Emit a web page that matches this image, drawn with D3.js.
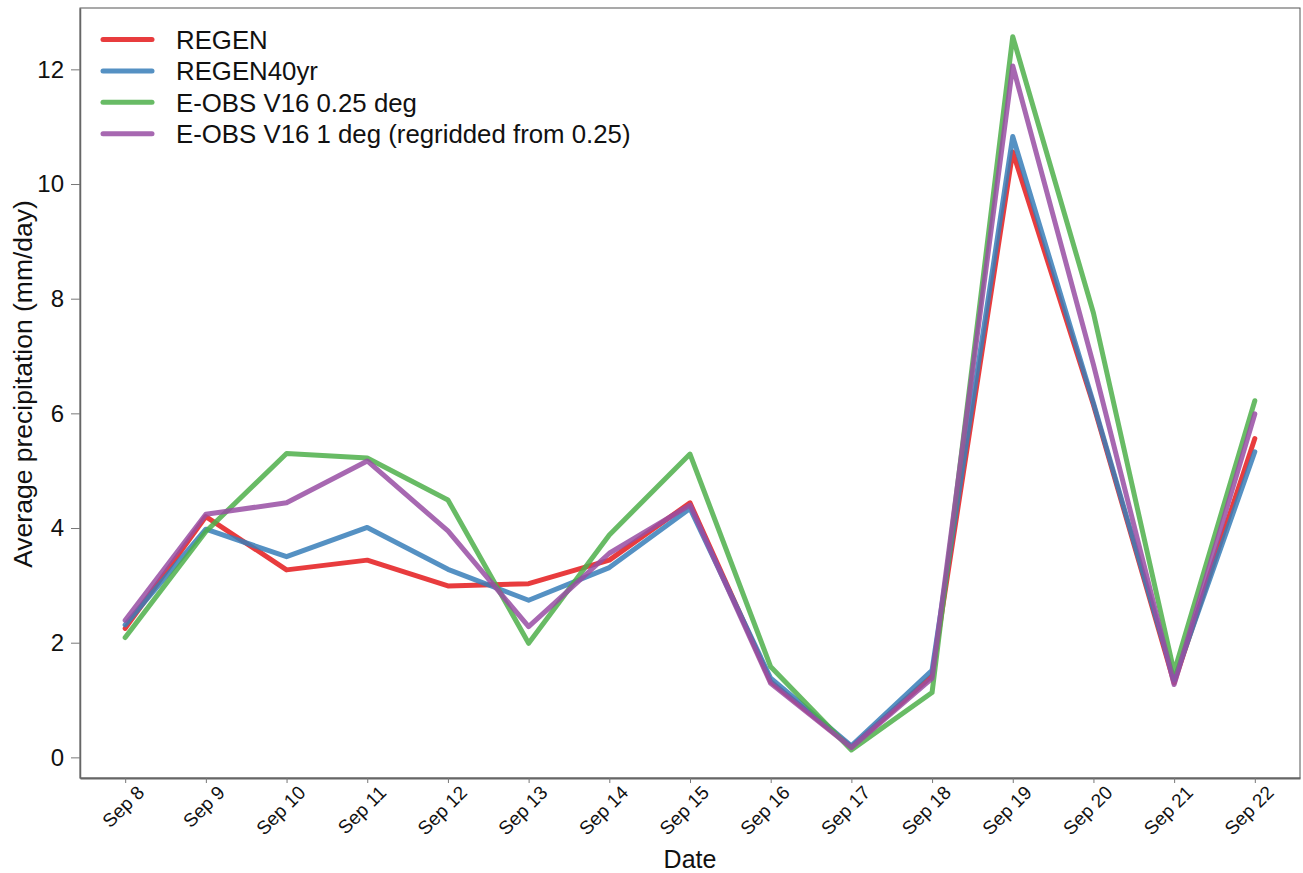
<!DOCTYPE html>
<html>
<head>
<meta charset="utf-8">
<script src="https://cdn.jsdelivr.net/npm/d3@7"></script>
<style>
  body { margin: 0; background: #fff; }
  text { font-family: "Liberation Sans", Arial, Helvetica, sans-serif; fill: #111; }
</style>
</head>
<body>
<script>
const dates = ["2018-09-08","2018-09-09","2018-09-10","2018-09-11","2018-09-12","2018-09-13","2018-09-14",
               "2018-09-15","2018-09-16","2018-09-17","2018-09-18","2018-09-19","2018-09-20","2018-09-21","2018-09-22"];
const regen      = [2.25, 4.20, 3.27, 3.44, 2.99, 3.03, 3.44, 4.44, 1.32, 0.18, 1.42, 10.56, 6.15, 1.30, 5.56];
const regen40    = [2.31, 3.98, 3.50, 4.01, 3.28, 2.74, 3.31, 4.34, 1.38, 0.20, 1.52, 10.83, 6.18, 1.35, 5.33];
const eobs025    = [2.09, 3.94, 5.30, 5.22, 4.49, 1.99, 3.88, 5.29, 1.58, 0.13, 1.13, 12.57, 7.75, 1.49, 6.22];
const eobs1      = [2.39, 4.24, 4.44, 5.17, 3.95, 2.28, 3.56, 4.40, 1.29, 0.17, 1.38, 12.06, 6.85, 1.27, 5.99];
const seriesNames = ["REGEN", "REGEN40yr", "E-OBS V16 0.25 deg", "E-OBS V16 1 deg (regridded from 0.25)"];
const colors = ["#E41A1C", "#377EB8", "#4DAF4A", "#984EA3"];
const yTicks = [0, 2, 4, 6, 8, 10, 12];

const parseDate = d3.timeParse("%Y-%m-%d");
const W = 1303, H = 873;
const plotL = 80, plotR = 1300, plotT = 8, plotB = 778;

const svg = d3.select("body").append("svg")
    .attr("width", W)
    .attr("height", H);

const days = dates.map(parseDate);
const pad = 0.56 * 864e5;

const x = d3.scaleTime()
    .domain([new Date(days[0].getTime() - pad), new Date(days[days.length-1].getTime() + pad)])
    .range([plotL, plotR]);

const y = d3.scaleLinear()
    .domain([-0.36, 13.07])
    .range([plotB, plotT]);

const series = [regen, regen40, eobs025, eobs1].map((vals, i) => ({
    name: seriesNames[i],
    color: colors[i],
    values: vals.map((v, j) => ({date: days[j], value: v}))
}));

// lines
const line = d3.line()
    .x(d => x(d.date))
    .y(d => y(d.value));

svg.append("g")
    .selectAll("path")
    .data(series)
    .enter()
    .append("path")
    .attr("d", d => line(d.values))
    .attr("fill", "none")
    .attr("stroke", d => d.color)
    .attr("stroke-opacity", 0.85)
    .attr("stroke-width", 5)
    .attr("stroke-linejoin", "round")
    .attr("stroke-linecap", "round");

// frame
svg.append("rect")
    .attr("x", plotL).attr("y", plotT)
    .attr("width", plotR - plotL).attr("height", plotB - plotT)
    .attr("fill", "none")
    .attr("stroke", "#555")
    .attr("stroke-width", 1);

// y axis
const yAxis = svg.append("g")
    .attr("transform", `translate(${plotL},0)`)
    .call(d3.axisLeft(y).tickValues(yTicks).tickSize(9).tickSizeOuter(0).tickPadding(7).tickFormat(d3.format("d")));
yAxis.select(".domain").attr("stroke", "#666").attr("stroke-width", 1.5);
yAxis.selectAll(".tick line").attr("stroke", "#777");
yAxis.selectAll("text")
    .style("font-size", "24px")
    .attr("fill", "#111");

// x axis
const xAxis = svg.append("g")
    .attr("transform", `translate(0,${plotB})`)
    .call(d3.axisBottom(x).tickValues(days).tickSize(5).tickSizeOuter(0).tickFormat(d3.timeFormat("%b %-d")));
xAxis.select(".domain").attr("stroke", "#666").attr("stroke-width", 2);
xAxis.selectAll(".tick line").attr("stroke", "#777");
xAxis.selectAll("text")
    .style("font-size", "19px")
    .attr("fill", "#111")
    .attr("text-anchor", "end")
    .attr("y", 0)
    .attr("dy", "0.72em")
    .attr("transform", "translate(10,6) rotate(-45)");

// axis titles
svg.append("text")
    .attr("x", (plotL + plotR) / 2)
    .attr("y", 868)
    .attr("text-anchor", "middle")
    .style("font-size", "25px")
    .text("Date");

svg.append("text")
    .attr("transform", `translate(32,${(plotT + plotB) / 2 - 9}) rotate(-90)`)
    .attr("text-anchor", "middle")
    .style("font-size", "26.5px")
    .text("Average precipitation (mm/day)");

// legend
const legend = svg.append("g")
    .selectAll("g")
    .data(series)
    .enter()
    .append("g")
    .attr("transform", (d, i) => `translate(103,${39.5 + i * 31.4})`);

legend.append("line")
    .attr("x1", 0).attr("x2", 49)
    .attr("stroke", d => d.color)
    .attr("stroke-opacity", 0.85)
    .attr("stroke-width", 5)
    .attr("stroke-linecap", "round");

legend.append("text")
    .attr("x", 73)
    .attr("dy", "0.36em")
    .style("font-size", "25.8px")
    .text(d => d.name);
</script>
</body>
</html>
